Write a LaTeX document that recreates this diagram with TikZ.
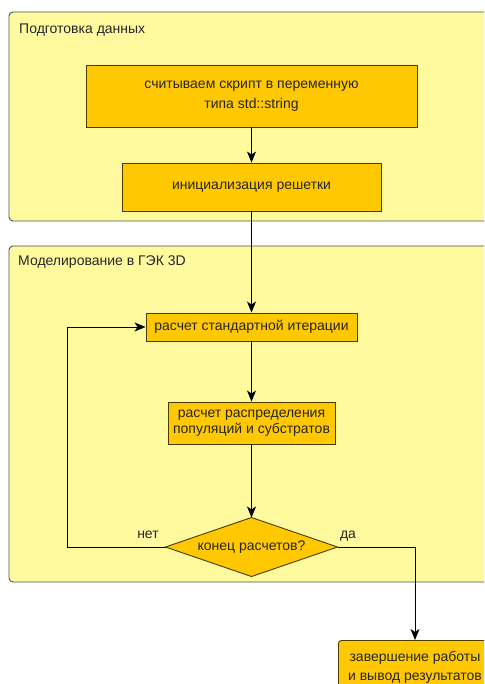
\documentclass[tikz,border=0pt]{standalone}
\usepackage{fontspec}
\setmainfont{Liberation Sans}
\usetikzlibrary{arrows.meta,shapes.geometric}
\definecolor{grpfill}{HTML}{FFFA9E}
\definecolor{grpline}{HTML}{505050}
\definecolor{boxfill}{HTML}{FFC800}
\definecolor{boxline}{HTML}{4A3C00}
\definecolor{txt}{HTML}{262626}
\tikzset{
  grp/.style={draw=grpline,fill=grpfill,line width=0.9pt,rounded corners=4pt},
  grptitle/.style={anchor=west,font=\fontsize{14}{15}\selectfont,inner sep=0pt,text=txt},
  stepbox/.style={draw=boxline,fill=boxfill,line width=0.9pt,align=center,font=\fontsize{14}{20}\selectfont,inner sep=0pt,text=txt},
  decide/.style={draw=boxline,fill=boxfill,line width=0.9pt,diamond,aspect=2.9,inner sep=0pt,outer sep=0pt,font=\fontsize{14}{15}\selectfont,text=txt},
  lbl/.style={font=\fontsize{14}{15}\selectfont,inner sep=0pt,text=txt},
  conn/.style={line width=0.9pt,-{Stealth[length=11pt,width=9pt,inset=3pt]}},
}
\begin{document}
\begin{tikzpicture}[x=1pt,y=-1pt]
\useasboundingbox (0,0) rectangle (484,684);
\clip (0,0) rectangle (484,684);
\fill[white] (0,0) rectangle (484,684);
% groups
\draw[grp] (9,12) rectangle (520,221);
\node[grptitle] (t1) at (19,30) {Подготовка данных};
\draw[grp] (9,246) rectangle (520,582);
\node[grptitle] (t2) at (18,262) {Моделирование в ГЭК 3D};
% boxes
\node[stepbox,minimum width=331pt,minimum height=62pt] (b1) at (251.5,96) {считываем скрипт в переменную\\типа std::string};
\node[stepbox,minimum width=259pt,minimum height=48pt] (b2) at (251.5,187) {инициализация решетки};
\node[stepbox,minimum width=211pt,minimum height=28pt] (b3) at (251.5,327) {расчет стандартной итерации};
\node[stepbox,minimum width=167pt,minimum height=42pt,font=\fontsize{14}{16}\selectfont] (b4) at (251.5,423) {расчет распределения\\популяций и субстратов};
\node[decide,minimum width=172pt,minimum height=59pt] (d) at (251.5,547) {конец расчетов?};
\node[stepbox,rounded corners=3pt,minimum width=180pt,minimum height=60pt,anchor=north west] (b5) at (338,640) {};
\node[lbl,align=center,font=\fontsize{14}{19}\selectfont] (b5t) at (415,667) {завершение работы\\и вывод результатов};
% connectors
\coordinate (nl) at (67,547);
\coordinate (nu) at (67,327);
\coordinate (yr) at (415,547);
\draw[conn] (b1.south) -- (b2.north);
\draw[conn] (b2.south) -- (b3.north);
\draw[conn] (b3.south) -- (b4.north);
\draw[conn] (b4.south) -- (d.north);
\draw[conn] (d.west) -- (nl) -- (nu) -- (b3.west);
\draw[conn] (d.east) -- (yr) -- (yr |- b5.north);
\node[lbl] (no) at (148,535) {нет};
\node[lbl] (yes) at (348,536) {да};
\end{tikzpicture}
\end{document}
